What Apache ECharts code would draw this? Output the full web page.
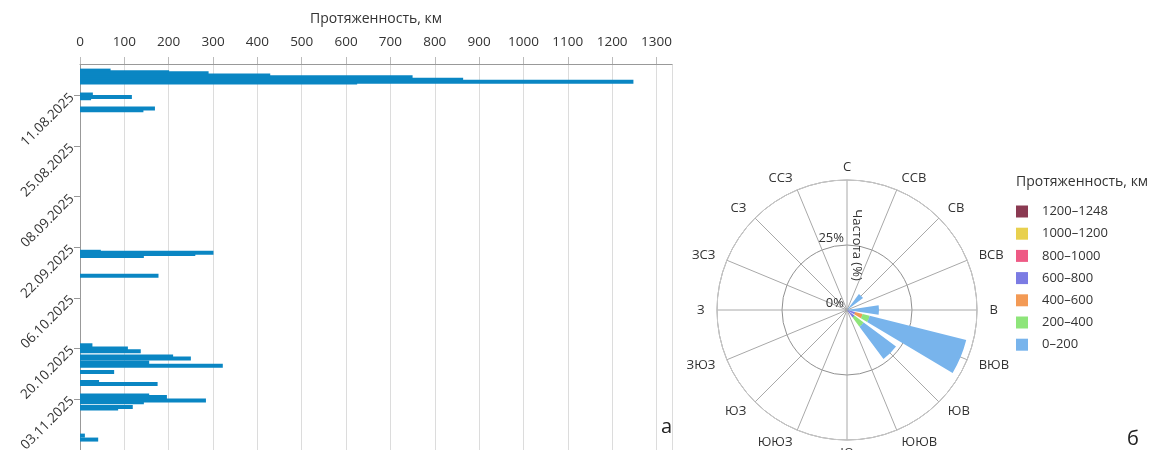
<!DOCTYPE html>
<html>
<head>
<meta charset="utf-8">
<script src="https://cdn.jsdelivr.net/npm/echarts@6/dist/echarts.min.js"></script>
<style>
    html, body { margin: 0; padding: 0; background: #fff; }
    #chart { width: 1157px; height: 450px; }
</style>
</head>
<body>
<div id="chart"></div>
<script>
// события: дата/время и протяженность, км
const eventDates = [
    '2025-08-03 13:00', '2025-08-04 00:00', '2025-08-04 07:00', '2025-08-04 22:30',
    '2025-08-05 09:00', '2025-08-06 02:30', '2025-08-06 15:00', '2025-08-06 21:30',
    '2025-08-10 05:30', '2025-08-10 22:00', '2025-08-11 06:30', '2025-08-14 03:00',
    '2025-08-14 15:30',
    '2025-09-23 05:30', '2025-09-23 12:15', '2025-09-23 21:00', '2025-09-24 10:00',
    '2025-09-29 23:00',
    '2025-10-19 09:20', '2025-10-20 07:00', '2025-10-21 02:00', '2025-10-22 12:30',
    '2025-10-23 01:40', '2025-10-24 04:20', '2025-10-25 03:40', '2025-10-26 20:40',
    '2025-10-29 15:50', '2025-10-30 05:00', '2025-11-02 10:50', '2025-11-02 20:40',
    '2025-11-03 20:00', '2025-11-04 07:10', '2025-11-05 16:30', '2025-11-06 01:10',
    '2025-11-13 15:50', '2025-11-14 18:30'
];
const eventLengths = [
    69, 201, 290, 429,
    750, 864, 1248, 625,
    29, 117, 25, 169,
    143,
    47, 301, 260, 144,
    177,
    28, 108, 137, 210,
    250, 156, 322, 77,
    43, 175, 156, 196,
    284, 144, 119, 86,
    11, 41
];
const dateTicks = ['2025-08-11 00:00', '2025-08-25 00:00', '2025-09-08 00:00', '2025-09-22 00:00',
    '2025-10-06 00:00', '2025-10-20 00:00', '2025-11-03 00:00'];
const dateMin = '2025-08-02 06:00';
const dateMax = '2025-11-18 06:00';

// роза: направления и частота (%) по классам протяженности
const directions = ['С', 'ССВ', 'СВ', 'ВСВ', 'В', 'ВЮВ', 'ЮВ', 'ЮЮВ',
    'Ю', 'ЮЮЗ', 'ЮЗ', 'ЗЮЗ', 'З', 'ЗСЗ', 'СЗ', 'ССЗ'];
const rangeNames = ['1200–1248', '1000–1200', '800–1000', '600–800', '400–600', '200–400', '0–200'];
const rangeColors = ['#8b3a52', '#e8d04e', '#ee5a85', '#7b7be3', '#f39a55', '#8ee57a', '#78b4ec'];
const freq1200 = [0, 0, 0, 0, 0, 0, 0, 0, 0, 0, 0, 0, 0, 0, 0, 0];
const freq1000 = [0, 0, 0, 0, 0, 0, 0, 0, 0, 0, 0, 0, 0, 0, 0, 0];
const freq800  = [0, 0, 0, 0, 0, 0, 0, 0, 0, 0, 0, 0, 0, 0, 0, 0];
const freq600  = [0, 0, 0, 0, 0, 3.2, 3.6, 0, 0, 0, 0, 0, 0, 0, 0, 0];
const freq400  = [0, 0, 0, 0, 0, 3.0, 0, 0, 0, 0, 0, 0, 0, 0, 0, 0];
const freq200  = [0, 0, 0, 0, 0, 2.8, 4.4, 0, 0, 0, 0, 0, 0, 0, 0, 0];
const freq0    = [0, 0, 7.7, 0, 12.3, 38.3, 15.5, 0, 0, 0, 0, 0, 0, 0, 0, 0];
const freqRows = [freq1200, freq1000, freq800, freq600, freq400, freq200, freq0];

const FONT = '"Open Sans", "Noto Sans", sans-serif';
const TXT = '#333';

const toTs = s => {
    const [d, t] = s.split(' ');
    const [Y, M, D] = d.split('-').map(Number);
    const [h, m] = t.split(':').map(Number);
    return Date.UTC(Y, M - 1, D, h, m);
};
const pad = n => (n < 10 ? '0' : '') + n;
const fmtDate = v => {
    const d = new Date(v);
    return pad(d.getUTCDate()) + '.' + pad(d.getUTCMonth() + 1) + '.' + d.getUTCFullYear();
};

const myChart = echarts.init(document.getElementById('chart'), null, { renderer: 'canvas' });

const barData = eventDates.map((s, i) => [eventLengths[i], toTs(s)]);
const tickTs = dateTicks.map(toTs);

const roseSeries = rangeNames.map((name, i) => ({
    name: name,
    type: 'bar',
    coordinateSystem: 'polar',
    polarIndex: 0,
    stack: 'rose',
    barCategoryGap: '26%',
    itemStyle: { color: rangeColors[i] },
    data: freqRows[i]
}));

const option = {
    useUTC: true,
    animation: false,
    textStyle: { fontFamily: FONT },
    title: [
        {
            text: 'Протяженность, км',
            left: 1011,
            top: 170,
            textStyle: { fontFamily: FONT, fontSize: 14, fontWeight: 'normal', color: TXT }
        },
        {
            text: 'а',
            left: 656,
            top: 412,
            textStyle: { fontFamily: FONT, fontSize: 20, fontWeight: 'normal', color: '#222' }
        },
        {
            text: 'б',
            left: 1122,
            top: 424,
            textStyle: { fontFamily: FONT, fontSize: 20, fontWeight: 'normal', color: '#222' }
        }
    ],
    legend: {
        orient: 'vertical',
        left: 1011,
        top: 200,
        itemWidth: 12,
        itemHeight: 12,
        itemGap: 9.2,
        icon: 'rect',
        data: rangeNames,
        textStyle: { fontFamily: FONT, fontSize: 13, color: TXT, padding: [0, 0, 0, 9] }
    },
    grid: { left: 80, top: 64, width: 592, height: 390, outerBoundsMode: 'none' },
    xAxis: {
        type: 'value',
        position: 'top',
        min: 0,
        max: 1335,
        interval: 100,
        name: 'Протяженность, км',
        nameLocation: 'middle',
        nameGap: 38,
        nameTextStyle: { fontFamily: FONT, fontSize: 14, color: TXT },
        axisLine: { show: true, lineStyle: { color: '#999' } },
        axisTick: { show: true, length: 7, lineStyle: { color: '#bbb' } },
        axisLabel: {
            fontFamily: FONT, fontSize: 13.5, color: TXT, margin: 15, showMaxLabel: false,
            formatter: v => String(v)
        },
        splitLine: { show: true, lineStyle: { color: '#dcdcdc' } }
    },
    yAxis: [
        {
            // ось времени для столбиков, подписи — на второй оси
            type: 'time',
            inverse: true,
            position: 'left',
            min: toTs(dateMin),
            max: toTs(dateMax),
            axisLine: { show: true, lineStyle: { color: '#999' } },
            axisTick: { show: false },
            axisLabel: { show: false },
            splitLine: { show: false }
        },
        {
            type: 'value',
            inverse: true,
            position: 'left',
            offset: 0,
            min: toTs(dateMin),
            max: toTs(dateMax),
            axisLine: { show: false },
            axisTick: { show: true, length: 6, lineStyle: { color: '#999' }, customValues: tickTs },
            axisLabel: {
                fontFamily: FONT, fontSize: 13.5, color: TXT, rotate: 45, margin: 8,
                customValues: tickTs,
                formatter: v => fmtDate(v)
            },
            splitLine: { show: false }
        }
    ],
    polar: [
        { center: [847, 310], radius: 130 },
        { center: [847, 310], radius: 130 }
    ],
    angleAxis: [
        {
            polarIndex: 0,
            type: 'category',
            data: directions,
            startAngle: 101.25,
            clockwise: true,
            boundaryGap: true,
            axisLine: { show: true, lineStyle: { color: '#c8c8c8' } },
            axisTick: { show: false },
            axisLabel: {
                fontFamily: FONT, fontSize: 13, color: TXT, margin: 12.5,
                padding: [-6, 0, -6, 0]
            },
            splitLine: { show: false }
        },
        {
            polarIndex: 1,
            type: 'value',
            min: 0,
            max: 360,
            interval: 22.5,
            startAngle: 90,
            clockwise: true,
            axisLine: { show: false },
            axisTick: { show: false },
            axisLabel: { show: false },
            splitLine: { show: true, lineStyle: { color: '#a8a8a8' } }
        }
    ],
    radiusAxis: [
        {
            polarIndex: 0,
            type: 'value',
            min: 0,
            max: 50,
            show: false
        },
        {
            polarIndex: 1,
            type: 'value',
            min: 0,
            max: 50,
            interval: 25,
            name: 'Частота (%)',
            nameLocation: 'middle',
            nameRotate: -90,
            nameGap: 3,
            nameTextStyle: { fontFamily: FONT, fontSize: 13, color: TXT },
            axisLine: { show: false },
            axisTick: { show: false },
            axisLabel: {
                fontFamily: FONT, fontSize: 13, color: TXT, showMaxLabel: false,
                margin: 3, verticalAlign: 'bottom',
                formatter: '{value}%'
            },
            splitLine: { show: true, lineStyle: { color: '#909090' } }
        }
    ],
    series: [
        {
            name: 'events',
            type: 'bar',
            xAxisIndex: 0,
            yAxisIndex: 0,
            barWidth: 4,
            itemStyle: { color: '#0a86c3' },
            data: barData
        }
    ].concat(roseSeries)
};

myChart.setOption(option);
window.addEventListener('resize', myChart.resize);
</script>
</body>
</html>
